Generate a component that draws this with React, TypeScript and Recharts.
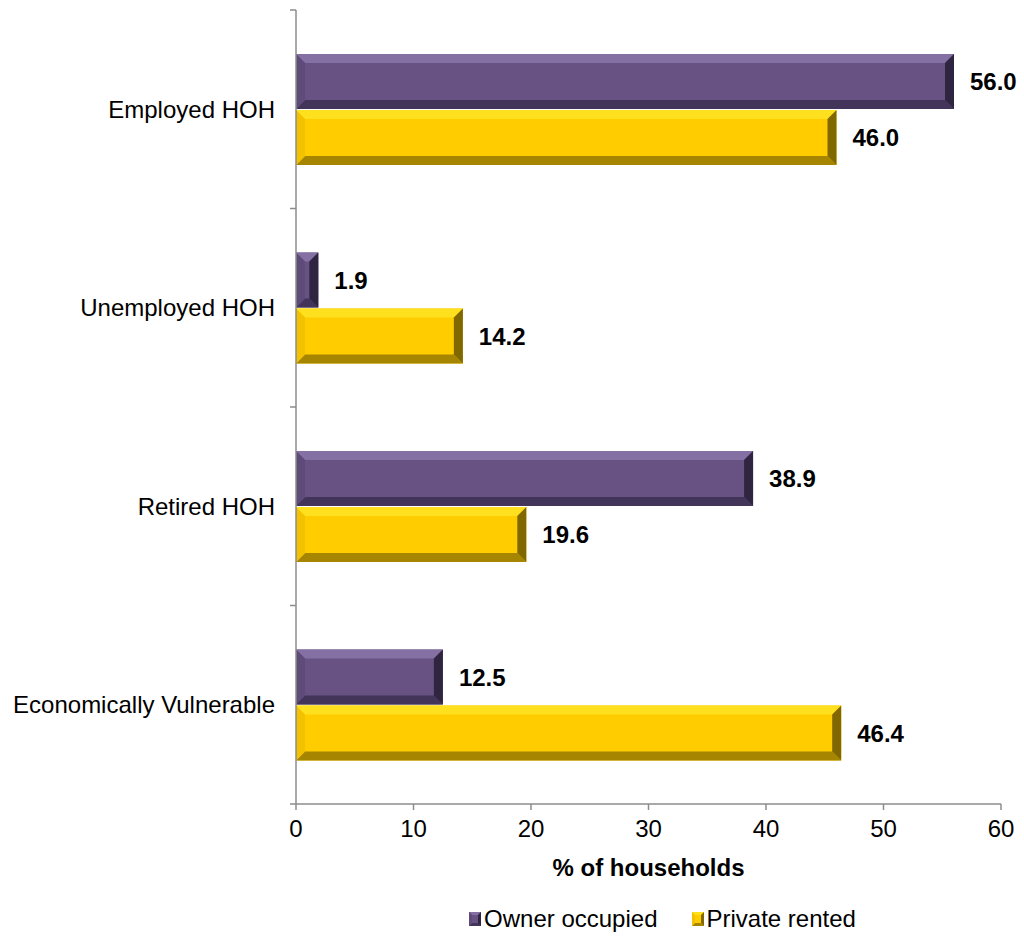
import { BarChart, Bar, XAxis, YAxis, LabelList, Legend } from 'recharts'

const CATEGORIES = ['Employed HOH', 'Unemployed HOH', 'Retired HOH', 'Economically Vulnerable']
const OWNER_OCCUPIED = [56.0, 1.9, 38.9, 12.5]
const PRIVATE_RENTED = [46.0, 14.2, 19.6, 46.4]
const X_TICKS = [0, 10, 20, 30, 40, 50, 60]

const data = CATEGORIES.map((name, i) => ({
  name,
  owner: OWNER_OCCUPIED[i],
  rented: PRIVATE_RENTED[i],
}))

const FONT = '"Liberation Sans", Arial, sans-serif'
const AXIS = '#8c8c8c'
const FS = 24

const PALETTE: Record<string, { base: string; top: string; bottom: string; left: string; right: string }> = {
  owner: { base: '#675283', top: '#8470a2', bottom: '#43355a', left: '#5e4b79', right: '#2f2540' },
  rented: { base: '#ffcc00', top: '#ffe01e', bottom: '#a68600', left: '#f2c200', right: '#806700' },
}

// bevelled bar like the Excel original
function bevel(kind: string) {
  return (props: any) => {
    const { x, y, width, height } = props
    if (!width || width <= 0) return <g />
    const c = PALETTE[kind]
    const b = Math.min(9, width / 2, height / 2)
    const x2 = x + width
    const y2 = y + height
    return (
      <g>
        <rect x={x} y={y} width={width} height={height} fill={c.base} />
        <polygon points={`${x},${y} ${x2},${y} ${x2 - b},${y + b} ${x + b},${y + b}`} fill={c.top} />
        <polygon points={`${x},${y2} ${x2},${y2} ${x2 - b},${y2 - b} ${x + b},${y2 - b}`} fill={c.bottom} />
        <polygon points={`${x},${y} ${x + b},${y + b} ${x + b},${y2 - b} ${x},${y2}`} fill={c.left} />
        <polygon points={`${x2},${y} ${x2 - b},${y + b} ${x2 - b},${y2 - b} ${x2},${y2}`} fill={c.right} />
      </g>
    )
  }
}

// category label plus tick marks on the band edges (Excel style)
function CategoryTick(props: any) {
  const { x, y, payload, index, visibleTicksCount } = props
  const half = payload.offset || 0
  const isLast = index === (visibleTicksCount ?? CATEGORIES.length) - 1
  return (
    <g>
      <line x1={x - 6} x2={x} y1={y - half} y2={y - half} stroke={AXIS} strokeWidth={1.5} />
      {isLast && <line x1={x - 6} x2={x} y1={y + half} y2={y + half} stroke={AXIS} strokeWidth={1.5} />}
      <text x={x - 21} y={y} dy="0.35em" textAnchor="end" fontFamily={FONT} fontSize={FS} fill="#000">
        {payload.value}
      </text>
    </g>
  )
}

function LegendIcon({ kind }: { kind: string }) {
  const c = PALETTE[kind]
  return (
    <svg width={12} height={14} style={{ marginRight: 3 }}>
      <rect x={0} y={0} width={12} height={14} fill={c.base} />
      <polygon points="0,0 12,0 9,3 3,3" fill={c.top} />
      <polygon points="0,14 12,14 9,11 3,11" fill={c.bottom} />
      <polygon points="0,0 3,3 3,11 0,14" fill={c.left} />
      <polygon points="12,0 9,3 9,11 12,14" fill={c.right} />
    </svg>
  )
}

function CustomLegend() {
  return (
    <div
      style={{
        display: 'flex',
        justifyContent: 'center',
        alignItems: 'center',
        paddingLeft: 324,
        paddingTop: 21,
        fontFamily: FONT,
        fontSize: FS,
        color: '#000',
        lineHeight: '28px',
      }}
    >
      <div style={{ display: 'flex', alignItems: 'center', marginRight: 34 }}>
        <LegendIcon kind="owner" />
        <span>Owner occupied</span>
      </div>
      <div style={{ display: 'flex', alignItems: 'center' }}>
        <LegendIcon kind="rented" />
        <span>Private rented</span>
      </div>
    </div>
  )
}

export default function App() {
  return (
    <div style={{ position: 'absolute', left: 0, top: 0, width: 1024, height: 936, background: '#fff' }}>
      <BarChart
        width={1024}
        height={936}
        data={data}
        layout="vertical"
        margin={{ top: 10, right: 23, bottom: 0, left: 0 }}
        barSize={55}
        barGap={1}
      >
        <XAxis
          type="number"
          domain={[0, 60]}
          ticks={X_TICKS}
          interval={0}
          height={80}
          stroke={AXIS}
          strokeWidth={1.5}
          tickSize={6}
          tickMargin={10}
          tick={{ fontFamily: FONT, fontSize: FS, fill: '#000' }}
          label={{
            value: '% of households',
            position: 'insideBottom',
            offset: 8,
            style: { fontFamily: FONT, fontSize: FS, fontWeight: 700, fill: '#000' },
          }}
        />
        <YAxis
          type="category"
          dataKey="name"
          width={296}
          stroke={AXIS}
          strokeWidth={1.5}
          tickLine={false}
          tickSize={0}
          tickMargin={0}
          interval={0}
          tick={<CategoryTick />}
        />
        <Legend verticalAlign="bottom" height={52} content={() => <CustomLegend />} />
        <Bar dataKey="owner" name="Owner occupied" fill="#675283" shape={bevel('owner')} isAnimationActive={false}>
          <LabelList
            dataKey="owner"
            position="right"
            offset={16}
            formatter={(v: any) => Number(v).toFixed(1)}
            style={{ fontFamily: FONT, fontSize: FS, fontWeight: 700, fill: '#000' }}
          />
        </Bar>
        <Bar dataKey="rented" name="Private rented" fill="#ffcc00" shape={bevel('rented')} isAnimationActive={false}>
          <LabelList
            dataKey="rented"
            position="right"
            offset={16}
            formatter={(v: any) => Number(v).toFixed(1)}
            style={{ fontFamily: FONT, fontSize: FS, fontWeight: 700, fill: '#000' }}
          />
        </Bar>
      </BarChart>
    </div>
  )
}
